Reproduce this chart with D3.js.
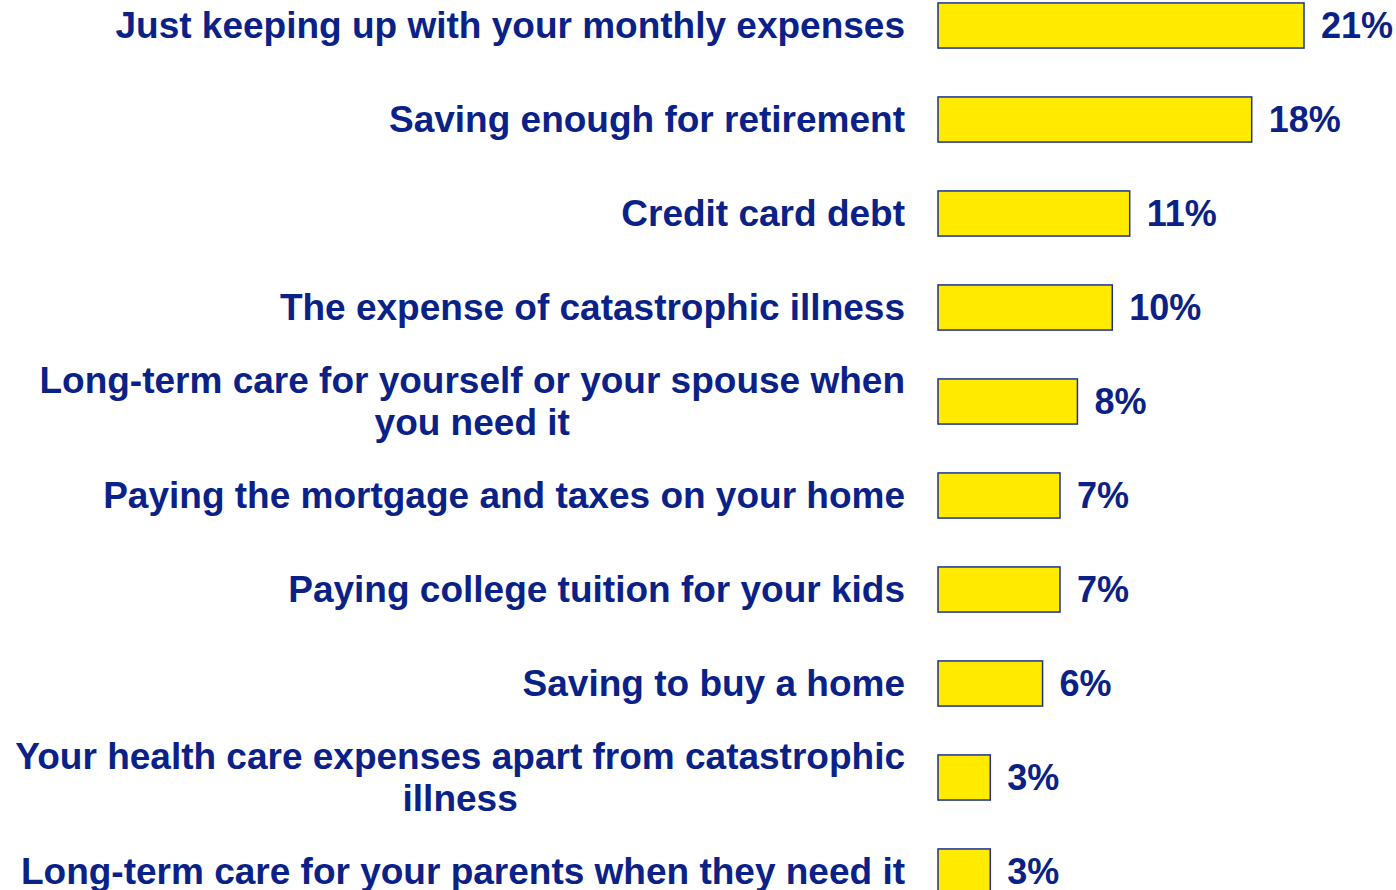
<!DOCTYPE html>
<html>
<head>
<meta charset="utf-8">
<script src="https://cdn.jsdelivr.net/npm/d3@7"></script>
<style>
  html, body { margin: 0; padding: 0; background: #ffffff; }
  svg { display: block; }
  text { font-family: "Liberation Sans", Arial, sans-serif; font-weight: bold; fill: #0a2288; }
</style>
</head>
<body>
<svg id="chart" width="1396" height="890"></svg>
<script>
// Financial worries, share of respondents (%)
const categories = [
  ["Just keeping up with your monthly expenses"],
  ["Saving enough for retirement"],
  ["Credit card debt"],
  ["The expense of catastrophic illness"],
  ["Long-term care for yourself or your spouse when", "you need it"],
  ["Paying the mortgage and taxes on your home"],
  ["Paying college tuition for your kids"],
  ["Saving to buy a home"],
  ["Your health care expenses apart from catastrophic", "illness"],
  ["Long-term care for your parents when they need it"]
];
const values = [21, 18, 11, 10, 8, 7, 7, 6, 3, 3];
const valueLabels = ["21%", "18%", "11%", "10%", "8%", "7%", "7%", "6%", "3%", "3%"];

const svg = d3.select("#chart");
const keys = categories.map((c, i) => i);

const x = d3.scaleLinear().domain([0, 21]).range([938, 1304]);
const y = d3.scaleBand().domain(keys).range([-21.5, 918.5])
  .paddingInner(0.52).paddingOuter(0.26);

const labelRight = 905;
const fontSize = 37;
const lineGap = 42;

const rows = svg.selectAll("g.row").data(keys).join("g").attr("class", "row");

rows.append("rect")
  .attr("x", x(0))
  .attr("y", i => y(i))
  .attr("width", i => x(values[i]) - x(0))
  .attr("height", y.bandwidth())
  .attr("fill", "#ffea00")
  .attr("stroke", "#1d3190")
  .attr("stroke-width", 1.5);

rows.append("text")
  .attr("x", i => x(values[i]) + 17)
  .attr("y", i => y(i) + y.bandwidth() / 2)
  .attr("dy", "0.36em")
  .attr("font-size", 36)
  .text(i => valueLabels[i]);

// Category labels: single lines right-aligned; wrapped labels centred as a block
rows.each(function(i) {
  const g = d3.select(this);
  const lines = categories[i];
  const cy = y(i) + y.bandwidth() / 2;
  if (lines.length === 1) {
    g.append("text")
      .attr("x", labelRight)
      .attr("y", cy)
      .attr("dy", "0.34em")
      .attr("text-anchor", "end")
      .attr("font-size", fontSize)
      .text(lines[0]);
  } else {
    const t = g.append("text").attr("font-size", fontSize).attr("text-anchor", "middle");
    const spans = lines.map((s, k) => t.append("tspan")
      .attr("y", cy + (k - (lines.length - 1) / 2) * lineGap)
      .attr("dy", "0.34em")
      .text(s));
    const w = d3.max(spans, s => s.node().getComputedTextLength());
    spans.forEach(s => s.attr("x", labelRight - w / 2));
  }
});
</script>
</body>
</html>
